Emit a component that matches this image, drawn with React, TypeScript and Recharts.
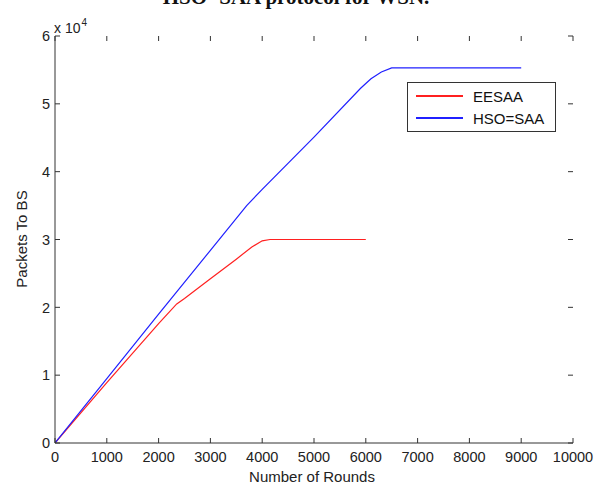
import React from 'react';
import { LineChart, Line, XAxis, YAxis } from 'recharts';

// plot box (pixels inside the 606x486 chart)
const LEFT = 55;
const RIGHT = 573;
const TOP = 36;
const BOTTOM = 443;

const xTicks = [0, 1000, 2000, 3000, 4000, 5000, 6000, 7000, 8000, 9000, 10000];
const yTicks = [0, 10000, 20000, 30000, 40000, 50000, 60000];

const eesaaRounds = [0, 1000, 2000, 2350, 2500, 3000, 3500, 3800, 4000, 4150, 6000];
const eesaaPackets = [0, 8900, 17600, 20500, 21300, 24200, 27100, 28900, 29800, 30000, 30000];

const hsoRounds = [0, 1000, 2000, 3000, 3700, 4000, 5000, 5900, 6100, 6300, 6500, 9000];
const hsoPackets = [0, 9500, 19000, 28400, 35000, 37400, 45100, 52300, 53700, 54700, 55300, 55300];

const eesaaData = eesaaRounds.map((x, i) => ({ x, y: eesaaPackets[i] }));
const hsoData = hsoRounds.map((x, i) => ({ x, y: hsoPackets[i] }));

const FONT = 'Liberation Sans, Arial, sans-serif';

const XTick = (props: any) => {
  const { x, payload } = props;
  return (
    <g>
      <line x1={x} x2={x} y1={BOTTOM} y2={BOTTOM - 5} stroke="#333" />
      <line x1={x} x2={x} y1={TOP} y2={TOP + 5} stroke="#333" />
      <text x={x} y={BOTTOM + 19} textAnchor="middle" fontSize={14.5} fontFamily={FONT} fill="#222">
        {payload.value}
      </text>
    </g>
  );
};

const YTick = (props: any) => {
  const { y, payload } = props;
  return (
    <g>
      <line x1={LEFT} x2={LEFT + 5} y1={y} y2={y} stroke="#333" />
      <line x1={RIGHT} x2={RIGHT - 5} y1={y} y2={y} stroke="#333" />
      <text x={50} y={y} dy="0.36em" textAnchor="end" fontSize={14.5} fontFamily={FONT} fill="#222">
        {payload.value / 10000}
      </text>
    </g>
  );
};

const legendItems = [
  { name: 'EESAA', color: '#ff2020' },
  { name: 'HSO=SAA', color: '#2020ff' },
];

const LegendBox = () => (
  <div
    style={{
      position: 'absolute',
      left: 407,
      top: 82,
      width: 147,
      height: 46,
      border: '1px solid #333',
      background: '#fff',
      fontFamily: FONT,
      fontSize: 15,
      color: '#111',
      paddingTop: 2,
      boxSizing: 'content-box',
    }}
  >
    {legendItems.map((item) => (
      <div key={item.name} style={{ display: 'flex', alignItems: 'center', height: 22 }}>
        <div style={{ width: 47, height: 1.2, background: item.color, marginLeft: 8, marginRight: 10 }} />
        <span>{item.name}</span>
      </div>
    ))}
  </div>
);

export default function App() {
  return (
    <div style={{ position: 'absolute', left: 0, top: 0, width: 606, height: 486, background: '#fff' }}>
      <LineChart
        width={606}
        height={486}
        margin={{ top: TOP, right: 606 - RIGHT, left: 0, bottom: 0 }}
      >
        <XAxis
          type="number"
          dataKey="x"
          domain={[0, 10000]}
          ticks={xTicks}
          interval={0}
          height={486 - BOTTOM}
          tickLine={false}
          axisLine={{ stroke: '#333' }}
          tick={<XTick />}
          allowDataOverflow
        />
        <XAxis
          xAxisId="top"
          orientation="top"
          type="number"
          dataKey="x"
          domain={[0, 10000]}
          height={0}
          tick={false}
          tickLine={false}
          axisLine={{ stroke: '#333' }}
        />
        <YAxis
          type="number"
          dataKey="y"
          domain={[0, 60000]}
          ticks={yTicks}
          interval={0}
          width={LEFT}
          tickLine={false}
          axisLine={{ stroke: '#333' }}
          tick={<YTick />}
          allowDataOverflow
        />
        <YAxis
          yAxisId="right"
          orientation="right"
          type="number"
          domain={[0, 60000]}
          width={0}
          tick={false}
          tickLine={false}
          axisLine={{ stroke: '#333' }}
        />
        <Line
          data={eesaaData}
          dataKey="y"
          name="EESAA"
          stroke="#ff2020"
          strokeWidth={1.2}
          dot={false}
          isAnimationActive={false}
        />
        <Line
          data={hsoData}
          dataKey="y"
          name="HSO=SAA"
          stroke="#2020ff"
          strokeWidth={1.2}
          dot={false}
          isAnimationActive={false}
        />
      </LineChart>
      <LegendBox />
      <svg
        width={606}
        height={486}
        style={{ position: 'absolute', left: 0, top: 0, pointerEvents: 'none' }}
      >
        <text x={296} y={4} textAnchor="middle" fontSize={21} fontWeight="bold" fontFamily="Liberation Serif, Times New Roman, serif" fill="#111">
          HSO- SAA protocol for WSN.
        </text>
        <text x={54} y={33} fontSize={14} fontFamily={FONT} fill="#222">
          x 10
          <tspan dx={1} dy={-7} fontSize={10}>4</tspan>
        </text>
        <text x={312} y={482} textAnchor="middle" fontSize={15} fontFamily={FONT} fill="#222">
          Number of Rounds
        </text>
        <text
          x={27}
          y={239}
          textAnchor="middle"
          fontSize={15}
          fontFamily={FONT}
          fill="#222"
          transform="rotate(-90 27 239)"
        >
          Packets To BS
        </text>
      </svg>
    </div>
  );
}
